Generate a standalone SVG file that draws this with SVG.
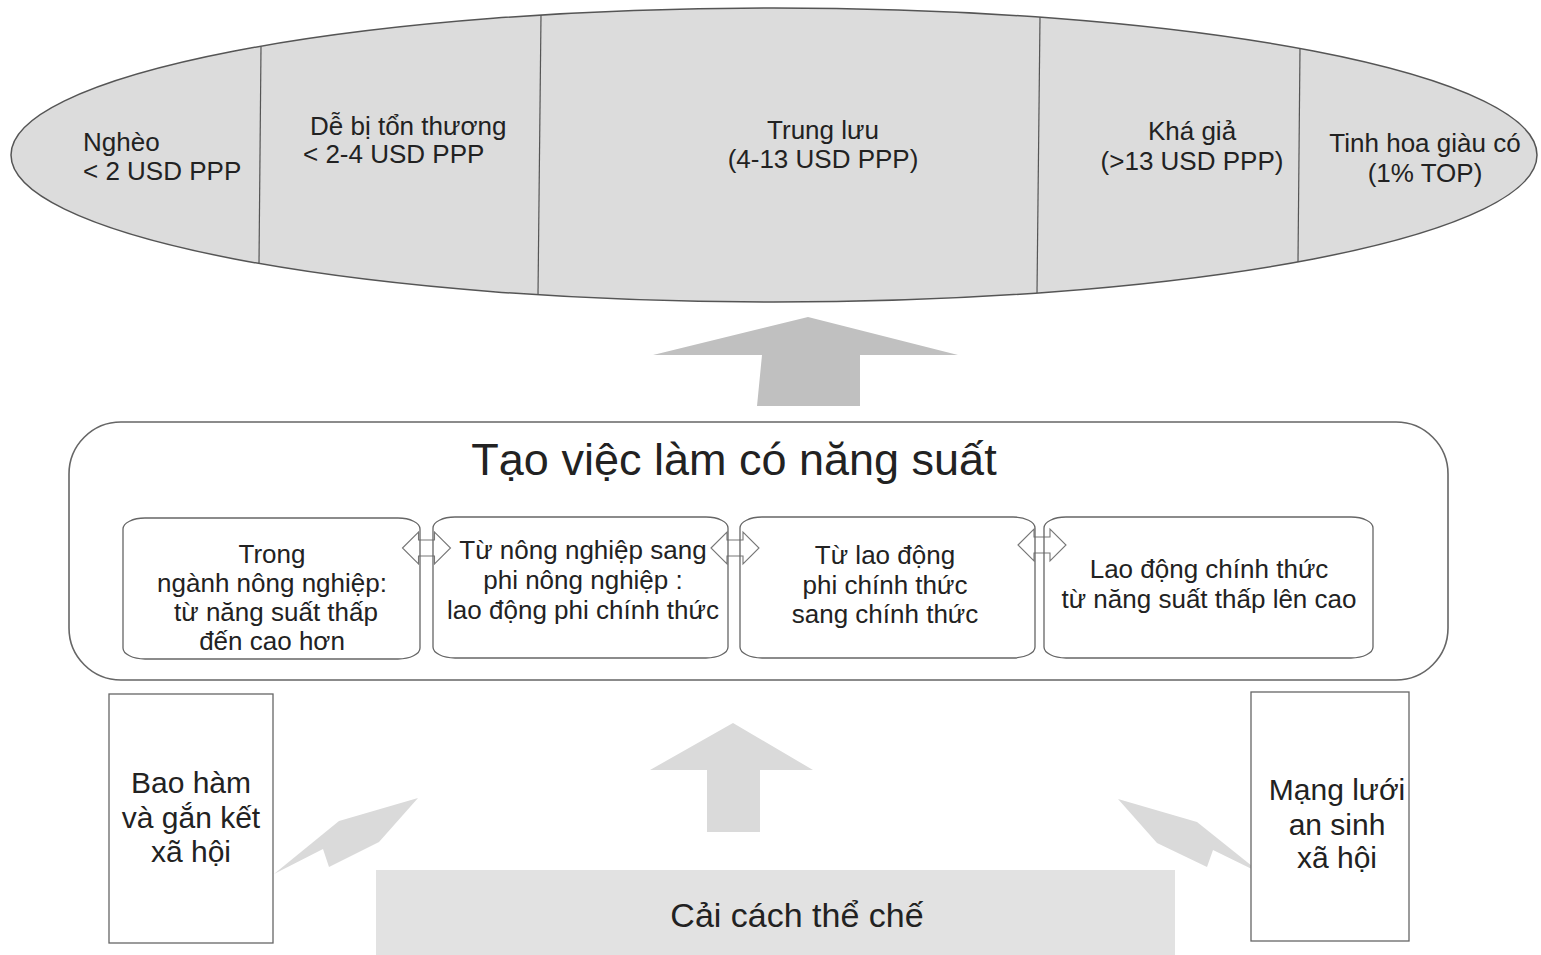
<svg xmlns="http://www.w3.org/2000/svg" xmlns:xlink="http://www.w3.org/1999/xlink" width="1541" height="955" viewBox="0 0 1541 955">
  <style>
    text { font-family: "Liberation Sans", Arial, sans-serif; fill: #222; }
    .band { font-size: 26px; }
    .sub { font-size: 26px; text-anchor: middle; }
    .side { font-size: 30px; text-anchor: middle; }
    .divider { stroke: #555; stroke-width: 1.2; }
    .subbox { fill: none; stroke: #666; stroke-width: 1.3; }
    .link { fill: #fff; stroke: #777; stroke-width: 1.1; }
    .sidebox { fill: #fff; stroke: #666; stroke-width: 1.3; }
    .flow-big { fill: #c0c0c0; }
    .flow { fill: #dadada; }
  </style>
  <defs>
    <path id="dbl" d="M-24,0 L-8,-16 L-8,-8 L8,-8 L8,-16 L24,0 L8,16 L8,8 L-8,8 L-8,16 Z"/>
  </defs>

  <rect width="1541" height="955" fill="#fff"/>

  <!-- income distribution ellipse -->
  <g id="income-bands">
    <ellipse cx="774" cy="155" rx="763" ry="147" fill="#dcdcdc" stroke="#555" stroke-width="1.5"/>
    <line class="divider" x1="261" y1="47" x2="259" y2="263"/>
    <line class="divider" x1="541" y1="15" x2="538" y2="295"/>
    <line class="divider" x1="1040" y1="17" x2="1037" y2="293"/>
    <line class="divider" x1="1300" y1="48" x2="1298" y2="262"/>
    <text class="band" x="83" y="151">Nghèo</text>
    <text class="band" x="83" y="180">&lt; 2 USD PPP</text>
    <text class="band" x="310" y="135">Dễ bị tổn thương</text>
    <text class="band" x="303" y="163">&lt; 2-4 USD PPP</text>
    <text class="band" x="823" y="139" text-anchor="middle">Trung lưu</text>
    <text class="band" x="823" y="168" text-anchor="middle">(4-13 USD PPP)</text>
    <text class="band" x="1192" y="140" text-anchor="middle">Khá giả</text>
    <text class="band" x="1192" y="170" text-anchor="middle">(&gt;13 USD PPP)</text>
    <text class="band" x="1425" y="152" text-anchor="middle">Tinh hoa giàu có</text>
    <text class="band" x="1425" y="182" text-anchor="middle">(1% TOP)</text>
  </g>

  <!-- block arrows -->
  <g id="connectors">
    <polygon class="flow-big" points="808,317 958,355 860,355 860,406 757,406 762,355 653,355"/>
    <polygon class="flow" points="733,723 813,770 760,770 760,832 707,832 707,770 650,770"/>
    <polygon class="flow" points="418,798 339,821 274,874 323,849 329,867 379,842"/>
    <polygon class="flow" points="1118,799 1197,822 1262,874 1213,850 1207,867 1157,843"/>
    <use href="#dbl" xlink:href="#dbl" class="link" transform="translate(426.5,548)"/>
    <use href="#dbl" xlink:href="#dbl" class="link" transform="translate(735,548)"/>
    <use href="#dbl" xlink:href="#dbl" class="link" transform="translate(1042,545)"/>
  </g>

  <!-- productive jobs container -->
  <g id="productive-jobs">
    <rect x="69" y="422" width="1379" height="258" rx="52" ry="52" fill="none" stroke="#666" stroke-width="1.6"/>
    <text x="734" y="475" text-anchor="middle" font-size="45">Tạo việc làm có năng suất</text>
  </g>

  <g id="step-agriculture">
    <rect class="subbox" x="123" y="518" width="297" height="141" rx="22" ry="11"/>
    <text class="sub" x="272" y="563">Trong</text>
    <text class="sub" x="272" y="592">ngành nông nghiệp:</text>
    <text class="sub" x="276" y="621">từ năng suất thấp</text>
    <text class="sub" x="272" y="650">đến cao hơn</text>
  </g>

  <g id="step-nonfarm">
    <rect class="subbox" x="433" y="517" width="295" height="141" rx="22" ry="11"/>
    <text class="sub" x="583" y="559">Từ nông nghiệp sang</text>
    <text class="sub" x="583" y="589">phi nông nghiệp :</text>
    <text class="sub" x="583" y="619">lao động phi chính thức</text>
  </g>

  <g id="step-formal">
    <rect class="subbox" x="740" y="517" width="295" height="141" rx="22" ry="11"/>
    <text class="sub" x="885" y="564">Từ lao động</text>
    <text class="sub" x="885" y="594">phi chính thức</text>
    <text class="sub" x="885" y="623">sang chính thức</text>
  </g>

  <g id="step-formal-productivity">
    <rect class="subbox" x="1044" y="517" width="329" height="141" rx="22" ry="11"/>
    <text class="sub" x="1209" y="578">Lao động chính thức</text>
    <text class="sub" x="1209" y="608">từ năng suất thấp lên cao</text>
  </g>

  <!-- supporting pillars -->
  <g id="social-inclusion">
    <rect class="sidebox" x="109" y="694" width="164" height="249"/>
    <text class="side" x="191" y="793">Bao hàm</text>
    <text class="side" x="191" y="828">và gắn kết</text>
    <text class="side" x="191" y="862">xã hội</text>
  </g>

  <g id="safety-net">
    <rect class="sidebox" x="1251" y="692" width="158" height="249"/>
    <text class="side" x="1337" y="800">Mạng lưới</text>
    <text class="side" x="1337" y="835">an sinh</text>
    <text class="side" x="1337" y="868">xã hội</text>
  </g>

  <g id="institutional-reform">
    <rect x="376" y="870" width="799" height="85" fill="#e2e2e2"/>
    <text x="797" y="927" text-anchor="middle" font-size="34">Cải cách thể chế</text>
  </g>
</svg>
